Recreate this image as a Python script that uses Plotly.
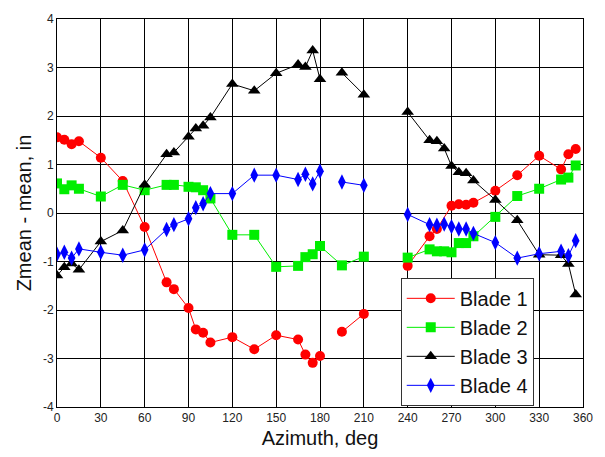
import plotly.graph_objects as go

# Blade 1 (red circles)
b1_az = [0, 5, 10, 15, 30, 45, 60, 75, 80, 90, 95, 100, 105, 120, 135, 150, 165, 170, 175, 180,
         None, 195, 210, None, 240, 255, 260, 270, 275, 280, 285, 300, 315, 330, 345, 350, 355]
b1_z = [1.56, 1.51, 1.42, 1.48, 1.14, 0.66, -0.29, -1.43, -1.57, -1.96, -2.40, -2.47, -2.67, -2.56, -2.81, -2.52, -2.61, -2.92, -3.09, -2.95,
        None, -2.45, -2.08, None, -1.09, -0.48, -0.33, 0.15, 0.18, 0.17, 0.21, 0.46, 0.78, 1.18, 0.90, 1.21, 1.32]

# Blade 2 (green squares)
b2_az = [0, 5, 10, 15, 30, 45, 60, 75, 80, 90, 95, 100, 105, 120, 135, 150, 165, 170, 175, 180,
         195, 210, None, 240, 255, 260, 265, 270, 275, 280, 285, 300, 315, 330, 345, 350, 355]
b2_z = [0.61, 0.49, 0.57, 0.50, 0.34, 0.58, 0.47, 0.58, 0.58, 0.54, 0.53, 0.47, 0.30, -0.45, -0.45, -1.11, -1.09, -0.91, -0.85, -0.68,
        -1.08, -0.90, None, -0.92, -0.75, -0.79, -0.79, -0.81, -0.62, -0.62, -0.48, -0.08, 0.35, 0.50, 0.69, 0.73, 0.98]

# Blade 3 (black triangles)
b3_az = [0, 5, 10, 15, 30, 45, 60, 75, 80, 90, 95, 100, 105, 120, 135, 150, 165, 170, 175, 180,
         None, 195, 210, None, 240, 255, 260, 265, 270, 275, 280, 285, 300, 315, 330, 345, 350, 355]
b3_z = [-1.29, -1.12, -1.04, -1.17, -0.59, -0.36, 0.58, 1.21, 1.25, 1.57, 1.74, 1.80, 1.97, 2.66, 2.52, 2.88, 3.06, 3.01, 3.35, 2.76,
        None, 2.89, 2.44, None, 2.08, 1.50, 1.48, 1.33, 0.97, 0.84, 0.82, 0.67, 0.27, -0.15, -0.86, -0.87, -1.05, -1.68]

# Blade 4 (blue diamonds)
b4_az = [0, 5, 10, 15, 30, 45, 60, 75, 80, 90, 95, 100, 105, 120, 135, 150, 165, 170, 175, 180,
         None, 195, 210, None, 240, 255, 260, 265, 270, 275, 280, 285, 300, 315, 330, 345, 350, 355]
b4_z = [-0.85, -0.81, -0.93, -0.74, -0.81, -0.87, -0.76, -0.34, -0.24, -0.12, 0.11, 0.19, 0.40, 0.40, 0.78, 0.78, 0.69, 0.80, 0.60, 0.86,
        None, 0.64, 0.57, None, -0.03, -0.24, -0.25, -0.23, -0.28, -0.33, -0.33, -0.42, -0.61, -0.93, -0.84, -0.79, -0.88, -0.57]

x_ticks = [0, 30, 60, 90, 120, 150, 180, 210, 240, 270, 300, 330, 360]
y_ticks = [-4, -3, -2, -1, 0, 1, 2, 3, 4]

FONT = "Liberation Sans, Arial, sans-serif"

fig = go.Figure()
series = [
    ("Blade 1", b1_az, b1_z, "#ff0000", "circle", 10),
    ("Blade 2", b2_az, b2_z, "#00ee00", "square", 10),
    ("Blade 3", b3_az, b3_z, "#000000", "triangle-up", 11),
    ("Blade 4", b4_az, b4_z, "#0000ff", "diamond-tall", 11),
]
for name, xs, ys, col, sym, sz in series:
    fig.add_trace(go.Scatter(
        x=xs, y=ys, name=name, mode="lines+markers",
        line=dict(color=col, width=1),
        marker=dict(color=col, symbol=sym, size=sz, line=dict(width=0)),
        connectgaps=False,
    ))

axis_common = dict(
    showgrid=True, gridcolor="#000000", gridwidth=1,
    showline=True, linecolor="#000000", linewidth=1, mirror=True,
    zeroline=False, ticks="", tickfont=dict(family=FONT, size=12, color="#222222"),
)
fig.update_xaxes(range=[0, 360], tickvals=x_ticks, ticktext=[str(v) for v in x_ticks],
                 title=dict(text="Azimuth, deg", font=dict(family=FONT, size=20, color="#111111"), standoff=6),
                 **axis_common)
fig.update_yaxes(range=[-4, 4], tickvals=y_ticks, ticktext=[str(v) for v in y_ticks],
                 title=dict(text="Zmean - mean, in", font=dict(family=FONT, size=20, color="#111111"), standoff=5),
                 **axis_common)

fig.update_layout(
    width=605, height=457,
    margin=dict(l=57, r=16, t=14, b=47),
    paper_bgcolor="white", plot_bgcolor="white",
    font=dict(family=FONT, color="#111111"),
    legend=dict(
        x=0.6535, y=0.003, xanchor="left", yanchor="bottom",
        bgcolor="white", bordercolor="#333333", borderwidth=1,
        font=dict(family=FONT, size=20, color="#111111"),
        tracegroupgap=0, itemwidth=48,
    ),
)

fig.write_html("out.html")
